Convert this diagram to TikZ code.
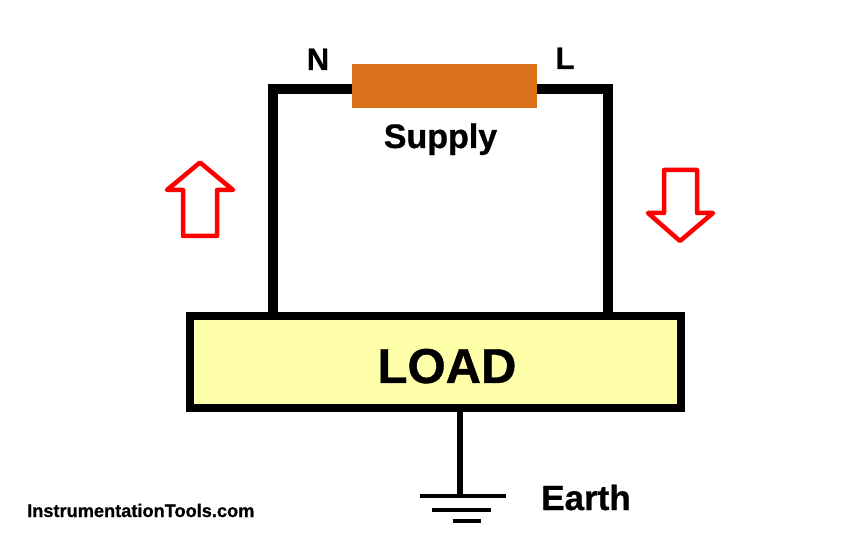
\documentclass[tikz,border=0pt]{standalone}
\usepackage{fontspec}
\setmainfont{Liberation Sans}[BoldFeatures={FakeBold=0.8}]
\newcommand{\labelfont}[1]{\fontsize{#1}{#1}\selectfont\bfseries}

\begin{document}
\begin{tikzpicture}[x=1pt, y=-1pt]
% Colors
\definecolor{supplyfill}{RGB}{220,113,28}
\definecolor{loadfill}{RGB}{255,255,170}
\definecolor{flowred}{RGB}{255,0,0}

\tikzset{
  wire/.style={line width=10pt, black, line join=miter},
  earthline/.style={line width=4pt, black},
  flowarrow/.style={line width=4.5pt, flowred, line join=round},
  tag/.style={anchor=base, inner sep=0pt, text=black}
}

\useasboundingbox (0,0) rectangle (860,545);

% Supply and load
\node[fill=supplyfill, minimum width=185pt, minimum height=44pt, inner sep=0pt] (supply) at (444.5,86) {};
\node[draw=black, line width=8pt, fill=loadfill, minimum width=491pt, minimum height=92pt, inner sep=0pt] (load) at (435.5,362) {};

% Wires from supply to load
\coordinate (nstart) at (352,89);
\coordinate (nend) at (273,312);
\coordinate (lstart) at (537,89);
\coordinate (lend) at (608,312);
\draw[wire] (nstart) -| (nend);
\draw[wire] (lstart) -| (lend);

% Earth symbol
\coordinate (earthtop) at (460,412);
\coordinate (earthbase) at (460,496);
\draw[line width=6pt] (earthtop) -- (earthbase);
\draw[earthline] (420,496) -- (506,496);
\draw[earthline] (432,510) -- (491,510);
\draw[earthline] (453,521) -- (481,521);

% Current direction
\draw[flowarrow] (200,162.5) -- (167,190) -- (183,190) -- (183,236) -- (217,236) -- (217,190) -- (233,190) -- cycle;
\draw[flowarrow] (664,170) -- (697,170) -- (697,213) -- (713,213) -- (680,241) -- (648,213) -- (664,213) -- cycle;

% Labels
\node[tag, font=\labelfont{31}] (ntag) at (318,70) {N};
\node[tag, font=\labelfont{31}] (ltag) at (565,69) {L};
\node[tag, font=\labelfont{34}] (supplytag) at (440.5,148) {Supply};
\node[tag, font=\labelfont{49}] (loadtag) at (447,383) {LOAD};
\node[tag, font=\labelfont{35}] (earthtag) at (586,510) {Earth};
\node[anchor=base west, inner sep=0pt, font=\labelfont{18.2}] (site) at (27,517) {InstrumentationTools.com};

\end{tikzpicture}
\end{document}
